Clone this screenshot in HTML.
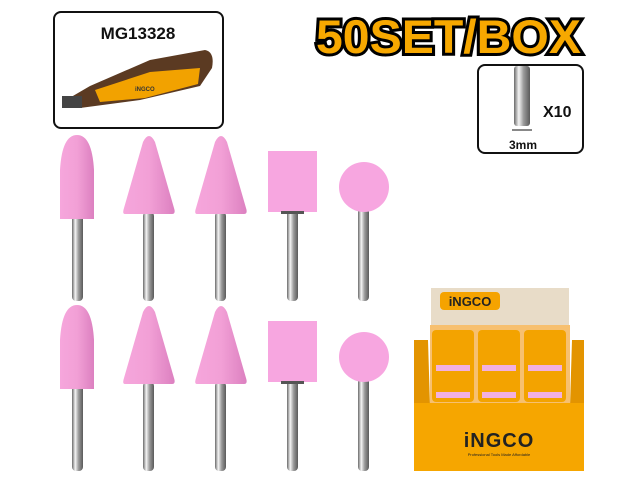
<!DOCTYPE html>
<html><head><style>html,body{margin:0;padding:0;background:#fff}svg{display:block}</style></head>
<body>
<svg width="640" height="480" xmlns="http://www.w3.org/2000/svg" font-family="Liberation Sans, sans-serif">
<defs>
<linearGradient id="sh" x1="0" x2="1"><stop offset="0" stop-color="#6a6a6a"/><stop offset=".3" stop-color="#f4f4f4"/><stop offset=".6" stop-color="#9a9a9a"/><stop offset="1" stop-color="#5a5a5a"/></linearGradient>
<linearGradient id="pk" x1="0" x2="1"><stop offset="0" stop-color="#f6a6dc"/><stop offset=".5" stop-color="#f2a0d6"/><stop offset="1" stop-color="#dc80c0"/></linearGradient>
<g id="row">
<rect x="72" y="215" width="11" height="86" rx="4" fill="url(#sh)"/>
<rect x="143" y="212" width="11" height="89" rx="4" fill="url(#sh)"/>
<rect x="215" y="212" width="11" height="89" rx="4" fill="url(#sh)"/>
<rect x="287" y="210" width="11" height="91" rx="4" fill="url(#sh)"/>
<rect x="358" y="208" width="11" height="93" rx="4" fill="url(#sh)"/>
<path d="M60 219 L60 170 Q62 135 77 135 Q92 135 94 170 L94 219 Z" fill="url(#pk)"/>
<path d="M125 214 Q122 214 124 208 L143 142 Q149 130 155 142 L174 208 Q176 214 172 214 Z" fill="url(#pk)"/>
<path d="M197 214 Q194 214 196 208 L215 142 Q221 130 227 142 L246 208 Q248 214 244 214 Z" fill="url(#pk)"/>
<rect x="268" y="151" width="49" height="61" fill="#f7a6e0"/>
<rect x="281" y="211" width="23" height="3" fill="#555"/>
<circle cx="364" cy="187" r="25" fill="#f7a6e0"/>
</g>
</defs>
<rect x="54" y="12" width="169" height="116" rx="7" fill="#fff" stroke="#111" stroke-width="2"/>
<text x="138" y="39" text-anchor="middle" font-size="17" font-weight="bold" fill="#111">MG13328</text>
<g>
<path d="M66 100 L90 86 L150 60 L205 50 Q215 52 212 68 L200 86 L140 100 L80 108 Z" fill="#5b3a22"/>
<path d="M95 90 L150 72 L200 68 L198 84 L145 98 L100 102 Z" fill="#f2a200"/>
<rect x="62" y="96" width="20" height="12" fill="#444"/>
<text x="135" y="91" font-size="6" font-weight="bold" fill="#333">iNGCO</text>
</g>
<text x="316" y="53" font-size="47" font-weight="900" fill="#f7a800" stroke="#000" stroke-width="6" paint-order="stroke" textLength="265" lengthAdjust="spacingAndGlyphs">50SET/BOX</text>
<rect x="478" y="65" width="105" height="88" rx="7" fill="#fff" stroke="#111" stroke-width="2"/>
<rect x="514" y="66" width="16" height="60" rx="3" fill="url(#sh)"/>
<line x1="512" y1="130" x2="532" y2="130" stroke="#111" stroke-width="1"/>
<text x="543" y="117" font-size="16" font-weight="bold" fill="#111">X10</text>
<text x="523" y="149" text-anchor="middle" font-size="12" font-weight="bold" fill="#111">3mm</text>
<use href="#row"/>
<use href="#row" y="170"/>
<rect x="431" y="288" width="138" height="40" fill="#e8dcc8"/>
<rect x="440" y="292" width="60" height="18" rx="4" fill="#f5a300"/>
<text x="470" y="306" text-anchor="middle" font-size="13" font-weight="bold" fill="#222">iNGCO</text>
<rect x="430" y="325" width="140" height="85" fill="#f7c070"/>
<g fill="#f3a300"><rect x="432" y="330" width="42" height="72" rx="4"/><rect x="478" y="330" width="42" height="72" rx="4"/><rect x="524" y="330" width="42" height="72" rx="4"/></g>
<g fill="#f2b0e0"><rect x="436" y="365" width="34" height="6"/><rect x="482" y="365" width="34" height="6"/><rect x="528" y="365" width="34" height="6"/><rect x="436" y="392" width="34" height="6"/><rect x="482" y="392" width="34" height="6"/><rect x="528" y="392" width="34" height="6"/></g>
<path d="M414 340 L428 340 L430 406 L414 406 Z" fill="#e39400"/>
<path d="M572 340 L584 340 L584 406 L570 406 Z" fill="#e39400"/>
<rect x="414" y="403" width="170" height="68" fill="#f6a600"/>
<text x="499" y="447" text-anchor="middle" font-size="20" font-weight="bold" fill="#222" letter-spacing="1">iNGCO</text>
<text x="499" y="456" text-anchor="middle" font-size="4" fill="#222">Professional Tools Made Affordable</text>
</svg>
</body></html>
